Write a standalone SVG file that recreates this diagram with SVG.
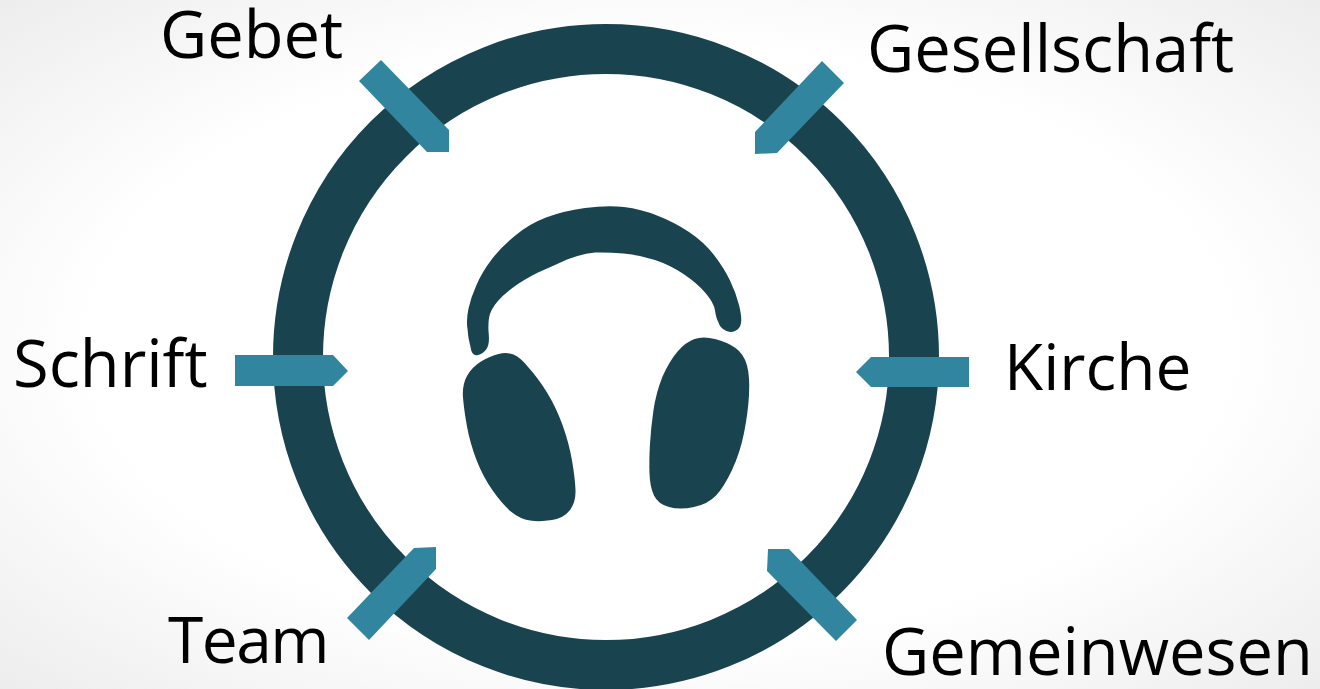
<svg xmlns="http://www.w3.org/2000/svg" width="1320" height="689" viewBox="0 0 1320 689">
<style>
.d{fill:#1a4350}
.a{fill:#31859e}
.t{font-family:"Open Sans","Noto Sans",sans-serif;font-size:65px;fill:#000}
</style>
<defs><radialGradient id="bg" cx="50%" cy="50%" r="72%"><stop offset="0.6" stop-color="#fff"/><stop offset="1" stop-color="#ececec"/></radialGradient></defs>
<rect width="1320" height="689" fill="url(#bg)"/>
<g id="ring"><circle cx="606" cy="357" r="308" fill="#fff" stroke="#1a4350" stroke-width="50"/></g>
<g id="headphones">
<path class="d" d="M470.5 347Q468 338 467.5 329Q466 320 468.5 308.5Q471 297 476.5 285Q482 272 492 259Q502 246 516 235Q529 224 546 217.5Q563 211 585 208Q607 205 624 207Q641 209 657 215.5Q674 222 689 232Q704 242 714 255Q724 268 730 280.5Q736 293 739 305Q742 317 741 323Q740 329 735 331Q730 333 725.5 330.5Q720 328 718.5 322.5Q716 318 715 310.5Q714 303 705.5 293Q697 283 683.5 274Q670 265 655 260Q640 255 623.5 253.5Q607 252 595 252.5Q581 254 567 259.5Q553 266 538 272.5Q523 280 513 287.5Q503 295 497.5 301.5Q492 308 490 314Q488 320 488.5 331.5Q490 344 486.5 349Q483 354 478 355Q472 357 470.5 347Z"/>
<path class="d" d="M463 397.5Q462 385 467 376Q472 367 481 361.5Q490 356 498.5 354Q507 352 513.5 354.5Q520 357 528.5 367.5Q538 378 547 392.5Q556 407 562.5 425Q569 443 572 460.5Q575 478 575.5 490Q576 502 570 510Q564 518 552 520Q540 522 530 520.5Q520 519 511.5 512Q503 505 493 491Q483 477 476.5 460Q470 443 467 426.5Q464 410 463 397.5Z"/>
<path class="d" d="M715 339Q703 336 694.5 339Q686 342 678 351Q670 360 662.5 376.5Q656 393 653.5 410Q651 427 650 443.5Q649 460 649.5 473.5Q650 487 654 495.5Q658 504 669 507Q680 510 694 507Q708 504 716 495.5Q724 487 732 470Q740 453 744 433Q748 413 749 395Q750 377 747 365.5Q744 354 735.5 348Q727 342 715 339Z"/>
</g>
<g id="connectors">
<polygon class="a" points="381,60 359,81 427,152 449,152 449,130"/>
<polygon class="a" points="822,61 844,83 777,153 755,154 755,132"/>
<polygon class="a" points="235,355 333,355 348,371 333,386 235,386"/>
<polygon class="a" points="969,357 871,357 856,372 871,387 969,387"/>
<polygon class="a" points="347,618 369,640 436,569 436,547 414,548"/>
<polygon class="a" points="768,549 789,549 857,620 836,641 767,571"/>
</g>
<g id="gebet"><text class="t" x="160" y="58">Gebet</text></g>
<g id="gesellschaft"><text class="t" x="867" y="72">Gesellschaft</text></g>
<g id="schrift"><text class="t" x="13" y="387">Schrift</text></g>
<g id="kirche"><text class="t" x="1004" y="390" style="font-size:64px">Kirche</text></g>
<g id="team"><text class="t" x="168" y="663" style="font-size:64px;letter-spacing:-1.5px">Team</text></g>
<g id="gemeinwesen"><text class="t" x="882" y="675">Gemeinwesen</text></g>
</svg>
